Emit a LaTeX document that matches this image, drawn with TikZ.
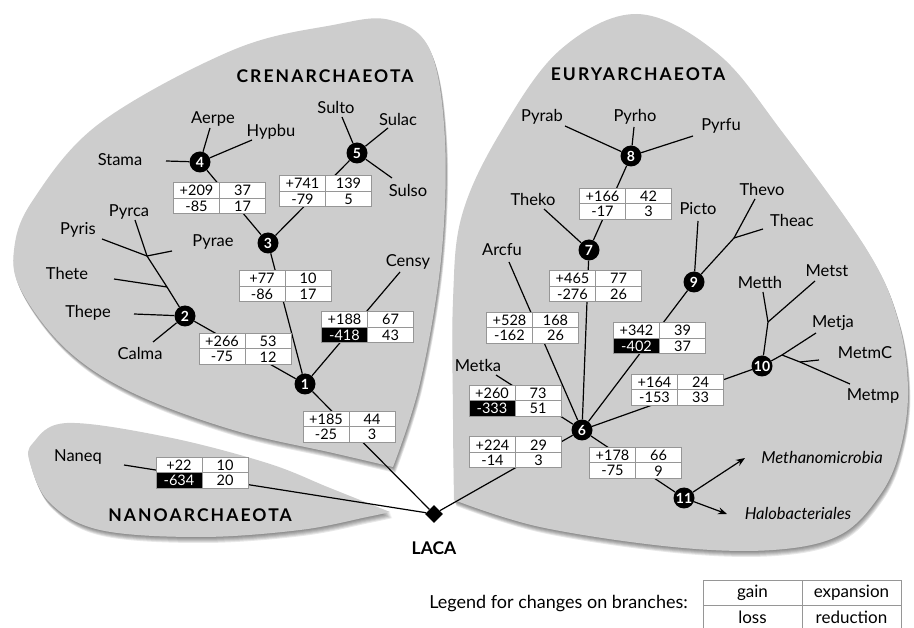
\documentclass[tikz,border=0pt]{standalone}
\usepackage{fontspec}
\setmainfont{Lato}
\usetikzlibrary{shapes.geometric,arrows.meta}

\definecolor{blobgray}{RGB}{205,205,205}
\definecolor{cellline}{RGB}{150,150,150}

% group outlines (pixel coordinates, y downwards)
\newcommand\crenblob[1]{\fill[#1] plot[smooth,tension=0.6] coordinates {
  (393,467) (420,383) (441,260) (445,140) (430,50) (390,20) (333,25) (233,50)
  (100,123) (33,200) (14,250) (22,292) (67,350) (133,393) (233,430) (333,453) (393,467)};}
\newcommand\euryblob[1]{\fill[#1] plot[smooth,tension=0.6] coordinates {
  (454,500) (453,420) (453,300) (462,215) (500,133) (560,50) (637,14) (717,53)
  (783,133) (867,250) (898,320) (908,390) (900,450) (880,495) (840,535) (773,550)
  (673,547) (540,527) (454,500)};}
\newcommand\nanoblob[1]{\fill[#1] plot[smooth,tension=0.6] coordinates {
  (390,512) (330,488) (267,463) (167,437) (67,423) (33,443) (30,463) (50,503)
  (100,530) (200,537) (300,530) (367,517) (390,512)};}

% one branch box: gain | expansion over loss | reduction
\newcommand\gtab[8]{%
  \node[cell] (#1-g) at (#2-23,#3-7.75) {#4};
  \node[cell] (#1-e) at (#2+23,#3-7.75) {#5};
  \node[cell,#8] (#1-l) at (#2-23,#3+7.75) {#6};
  \node[cell] (#1-r) at (#2+23,#3+7.75) {#7};}

\tikzset{
  inner/.style={circle,fill=black,text=white,minimum size=21pt,inner sep=0pt,
    font=\fontsize{14}{14}\selectfont\bfseries},
  leaf/.style={inner sep=0pt,font=\fontsize{16.5}{18}\selectfont},
  group/.style={inner sep=0pt,font=\fontsize{17.5}{19}\selectfont\bfseries\addfontfeature{LetterSpace=12}},
  cell/.style={draw=cellline,line width=1pt,fill=white,minimum width=46pt,
    minimum height=15.5pt,inner sep=0pt,font=\fontsize{14.5}{14.5}\selectfont},
  neg/.style={fill=black,text=white},
  plain/.style={},
  branch/.style={line width=1.2pt,black},
  lcell/.style={draw=cellline,line width=1pt,minimum width=99pt,minimum height=25pt,
    inner sep=0pt,font=\fontsize{17}{18}\selectfont},
}

\begin{document}
\begin{tikzpicture}[x=1pt,y=-1pt]
\useasboundingbox (0,0) rectangle (914,628);
\clip (0,0) rectangle (914,628);

% soft shadows under the three groups
\foreach \s in {1,2,3,4,5,6}{
  \crenblob{black,opacity=0.09,yshift=-\s pt,xshift=0.4*\s pt}
  \euryblob{black,opacity=0.09,yshift=-\s pt,xshift=0.4*\s pt}
  \nanoblob{black,opacity=0.09,yshift=-\s pt,xshift=0.4*\s pt}
}
\crenblob{blobgray}
\euryblob{blobgray}
\nanoblob{blobgray}

% group names
\node[group] (cren) at (325,76) {CRENARCHAEOTA};
\node[group] (eury) at (638,74) {EURYARCHAEOTA};
\node[group] (nano) at (200,515) {NANOARCHAEOTA};

% leaf names
\node[leaf] (stama) at (120,160) {Stama};
\node[leaf] (aerpe) at (213,119) {Aerpe};
\node[leaf] (hypbu) at (271,132) {Hypbu};
\node[leaf] (sulto) at (336,107) {Sulto};
\node[leaf] (sulac) at (398,119) {Sulac};
\node[leaf] (sulso) at (408,190) {Sulso};
\node[leaf] (pyrca) at (129,212) {Pyrca};
\node[leaf] (pyris) at (78,230) {Pyris};
\node[leaf] (pyrae) at (213,242) {Pyrae};
\node[leaf] (thete) at (67,273) {Thete};
\node[leaf] (thepe) at (88,313) {Thepe};
\node[leaf] (calma) at (140,353) {Calma};
\node[leaf] (censy) at (408,262) {Censy};
\node[leaf] (naneq) at (78,457) {Naneq};
\node[leaf] (pyrab) at (542,117) {Pyrab};
\node[leaf] (pyrho) at (635,117) {Pyrho};
\node[leaf] (pyrfu) at (721,126) {Pyrfu};
\node[leaf] (theko) at (533,199) {Theko};
\node[leaf] (picto) at (698,209) {Picto};
\node[leaf] (thevo) at (762,189) {Thevo};
\node[leaf] (theac) at (792,220) {Theac};
\node[leaf] (arcfu) at (502,250) {Arcfu};
\node[leaf] (metka) at (478,365) {Metka};
\node[leaf] (metth) at (760,282) {Metth};
\node[leaf] (metst) at (827,271) {Metst};
\node[leaf] (metja) at (833,323) {Metja};
\node[leaf] (metmc) at (865,353) {MetmC};
\node[leaf] (metmp) at (873,396) {Metmp};
\node[leaf,font=\fontsize{16.5}{18}\selectfont\itshape] (methano) at (822,457) {Methanomicrobia};
\node[leaf,font=\fontsize{16.5}{18}\selectfont\itshape] (halo) at (798,513) {Halobacteriales};

% internal nodes and root
\node[inner] (n1) at (305,384) {1};
\node[inner] (n2) at (185,316) {2};
\node[inner] (n3) at (268,243) {3};
\node[inner] (n4) at (200,162) {4};
\node[inner] (n5) at (357,153) {5};
\node[inner] (n6) at (582,430) {6};
\node[inner] (n7) at (589,250) {7};
\node[inner] (n8) at (631,156) {8};
\node[inner] (n9) at (694,282) {9};
\node[inner] (n10) at (762,366) {10};
\node[inner] (n11) at (684,498) {11};
\node[diamond,fill=black,minimum size=18pt,inner sep=0pt] (laca) at (434,514) {};
\node[inner sep=0pt,font=\fontsize{17.5}{19}\selectfont\bfseries] (lacatxt) at (434,548) {LACA};

% branch ends and unnamed junctions
\coordinate (stama-e) at (166,161);
\coordinate (aerpe-e) at (210,128);
\coordinate (hypbu-e) at (252,140);
\coordinate (sulto-e) at (342,117);
\coordinate (sulac-e) at (388,128);
\coordinate (sulso-e) at (392,178);
\coordinate (pyrca-e) at (135,220);
\coordinate (j-pyris) at (147,256);
\coordinate (pyris-e) at (102,239);
\coordinate (pyrae-e) at (172,251);
\coordinate (j-thete) at (167,287);
\coordinate (thete-e) at (114,279);
\coordinate (thepe-e) at (134,314);
\coordinate (calma-e) at (153,342);
\coordinate (censy-e) at (400,272);
\coordinate (naneq-e) at (124,465);
\coordinate (pyrab-e) at (565,126);
\coordinate (pyrho-e) at (634,127);
\coordinate (pyrfu-e) at (693,136);
\coordinate (theko-e) at (544,209);
\coordinate (arcfu-e) at (509,262);
\coordinate (picto-e) at (698,221);
\coordinate (j-thevo) at (734,238);
\coordinate (thevo-e) at (755,199);
\coordinate (theac-e) at (763,229);
\coordinate (metka-e) at (496,375);
\coordinate (metth-e) at (763,292);
\coordinate (j-metth) at (768,322);
\coordinate (metst-e) at (815,281);
\coordinate (j-metja) at (782,355);
\coordinate (metja-e) at (816,333);
\coordinate (j-metmc) at (800,362);
\coordinate (metmc-e) at (819,360);
\coordinate (metmp-e) at (850,384);
\coordinate (methano-e) at (745,458);
\coordinate (halo-e) at (727,514);

% branches; the change boxes are placed on top of them afterwards
\draw[branch] (stama-e) -- (n4);
\draw[branch] (aerpe-e) -- (n4);
\draw[branch] (hypbu-e) -- (n4);
\draw[branch] (sulto-e) -- (n5);
\draw[branch] (sulac-e) -- (n5);
\draw[branch] (sulso-e) -- (n5);
\draw[branch] (n4) -- (n3);
\draw[branch] (n5) -- (n3);
\draw[branch] (n3) -- (n1);
\draw[branch] (pyrca-e) -- (j-pyris) -- (j-thete) -- (n2);
\draw[branch] (pyris-e) -- (j-pyris) -- (pyrae-e);
\draw[branch] (thete-e) -- (j-thete);
\draw[branch] (thepe-e) -- (n2);
\draw[branch] (calma-e) -- (n2);
\draw[branch] (n2) -- (n1);
\draw[branch] (censy-e) -- (n1);
\draw[branch] (n1) -- (laca);
\draw[branch] (naneq-e) -- (laca);
\draw[branch] (pyrab-e) -- (n8);
\draw[branch] (pyrho-e) -- (n8);
\draw[branch] (pyrfu-e) -- (n8);
\draw[branch] (n8) -- (n7);
\draw[branch] (theko-e) -- (n7);
\draw[branch] (n7) -- (n6);
\draw[branch] (arcfu-e) -- (n6);
\draw[branch] (picto-e) -- (n9);
\draw[branch] (thevo-e) -- (j-thevo) -- (n9);
\draw[branch] (theac-e) -- (j-thevo);
\draw[branch] (n9) -- (n6);
\draw[branch] (metth-e) -- (j-metth) -- (n10);
\draw[branch] (metst-e) -- (j-metth);
\draw[branch] (n10) -- (j-metja) -- (metja-e);
\draw[branch] (j-metja) -- (j-metmc) -- (metmp-e);
\draw[branch] (j-metmc) -- (metmc-e);
\draw[branch] (n10) -- (n6);
\draw[branch] (metka-e) -- (n6);
\draw[branch] (n6) -- (laca);
\draw[branch] (n6) -- (n11);
\draw[branch,-{Stealth[length=9pt,width=7pt]}] (n11) -- (methano-e);
\draw[branch,-{Stealth[length=9pt,width=7pt]}] (n11) -- (halo-e);

% changes on branches
\gtab{t43}{219.5}{198.5}{+209}{37}{-85}{17}{plain}
\gtab{t53}{325.5}{191.5}{+741}{139}{-79}{5}{plain}
\gtab{t31}{285}{286.5}{+77}{10}{-86}{17}{plain}
\gtab{tcensy}{367.5}{327.5}{+188}{67}{-418}{43}{neg}
\gtab{t21}{245}{349}{+266}{53}{-75}{12}{plain}
\gtab{t1r}{349}{427}{+185}{44}{-25}{3}{plain}
\gtab{tnan}{202}{473}{+22}{10}{-634}{20}{neg}
\gtab{t87}{625.5}{204}{+166}{42}{-17}{3}{plain}
\gtab{t76}{595.5}{286.5}{+465}{77}{-276}{26}{plain}
\gtab{tarc}{532.5}{328}{+528}{168}{-162}{26}{plain}
\gtab{t96}{659.5}{338.5}{+342}{39}{-402}{37}{neg}
\gtab{tmetka}{515}{401}{+260}{73}{-333}{51}{neg}
\gtab{t106}{677.5}{390}{+164}{24}{-153}{33}{plain}
\gtab{t6r}{515.5}{452.5}{+224}{29}{-14}{3}{plain}
\gtab{t611}{635.5}{463}{+178}{66}{-75}{9}{plain}

% legend
\node[leaf,anchor=east,font=\fontsize{18}{19}\selectfont] (legtxt) at (688,604) {Legend for changes on branches:};
\node[lcell] (lg) at (752.5,592.5) {gain};
\node[lcell] (le) at (851.5,592.5) {expansion};
\node[lcell] (ll) at (752.5,617.5) {loss};
\node[lcell] (lr) at (851.5,617.5) {reduction};
\end{tikzpicture}
\end{document}
